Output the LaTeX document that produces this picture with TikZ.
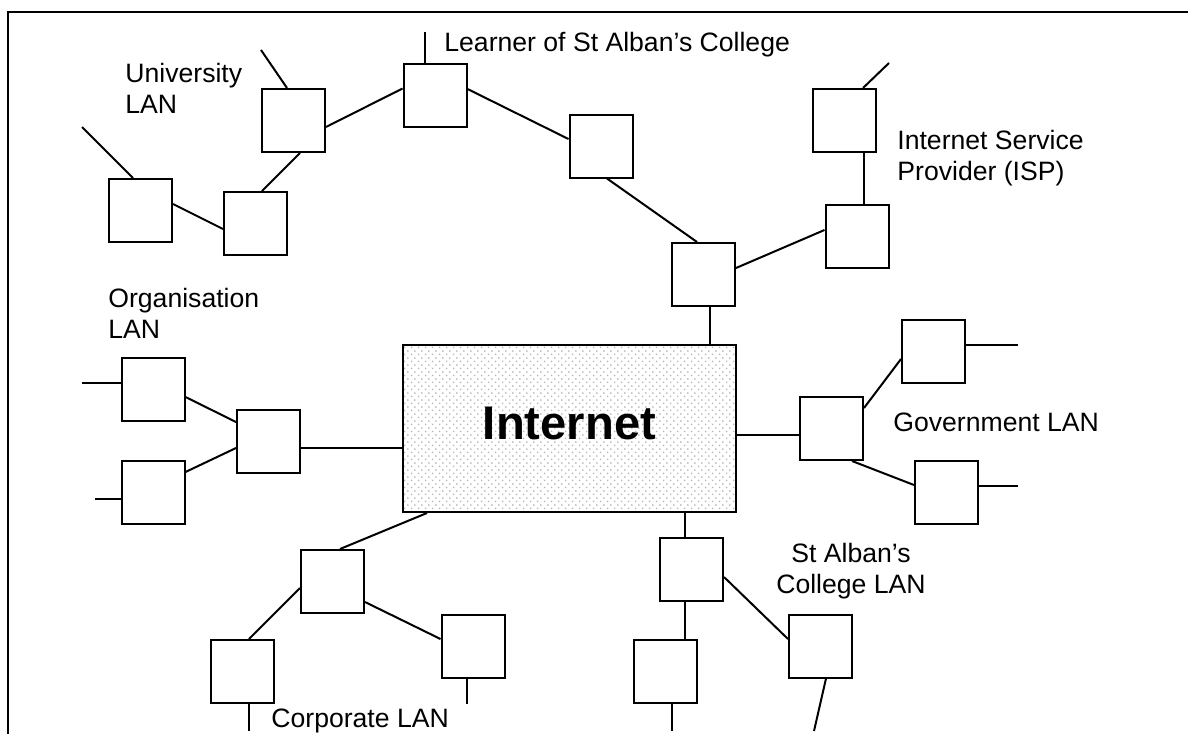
\documentclass[tikz,border=0pt]{standalone}
\usepackage{fontspec}
\setmainfont{Liberation Sans}
\usetikzlibrary{calc,patterns}

% staggered dot fill for the central cloud box
\pgfdeclarepatternformonly{netdots}{\pgfqpoint{0pt}{0pt}}{\pgfqpoint{3.6pt}{3.4pt}}{\pgfqpoint{3.6pt}{3.4pt}}{%
  \pgfpathcircle{\pgfqpoint{0.9pt}{0.85pt}}{0.5pt}%
  \pgfpathcircle{\pgfqpoint{2.7pt}{2.55pt}}{0.5pt}%
  \pgfusepath{fill}}

\begin{document}
\begin{tikzpicture}[x=0.5pt,y=-0.5pt,
  box/.style={draw,line width=1pt,minimum width=31.5pt,minimum height=31.5pt,inner sep=0pt,fill=white},
  link/.style={line width=1pt},
  lbl/.style={inner sep=0pt,font=\fontsize{13.3}{15.4}\selectfont,align=left,anchor=base west}]
\useasboundingbox (0,0) rectangle (1188,734);
\fill[white] (0,0) rectangle (1188,734);

% page frame
\coordinate (fTR) at (1188,12);
\coordinate (fTL) at (8,12);
\coordinate (fBL) at (8,734);
\draw[link] (fTR) -- (fTL) -- (fBL);

% central Internet box
\node[draw,line width=1pt,minimum width=166.5pt,minimum height=83.5pt,inner sep=0pt,
      preaction={fill=white},pattern=netdots,pattern color=gray!55,
      font=\fontsize{23.6}{28}\selectfont\bfseries,text depth=5.5pt] (Int) at (569.5,428.5) {Internet};

% University LAN
\node[box] (U1) at (140.5,210.5) {};
\node[box] (U2) at (255.5,223.5) {};
\node[box] (U3) at (293.5,120.5) {};
% learner and college path
\node[box] (L1) at (435,95.5) {};
\node[box] (L2) at (601,146) {};
\node[box] (R1) at (703.5,274.5) {};
% ISP
\node[box] (P1) at (844.5,120.5) {};
\node[box] (P2) at (857,236) {};
% Organisation LAN
\node[box] (O1) at (153,389.5) {};
\node[box] (O2) at (153,492.5) {};
\node[box] (O3) at (268.5,441) {};
% Government LAN
\node[box] (G1) at (831.5,428.5) {};
\node[box] (G2) at (933.5,351) {};
\node[box] (G3) at (946.5,492.5) {};
% Corporate LAN
\node[box] (C1) at (332.5,581.5) {};
\node[box] (C2) at (242.5,671.5) {};
\node[box] (C3) at (473,646) {};
% St Alban's College LAN
\node[box] (S1) at (691.5,569) {};
\node[box] (S2) at (665.5,671.5) {};
\node[box] (S3) at (820.5,646) {};

% free ends of stub lines
\coordinate (eU1) at (82,127);
\coordinate (eU3) at (261,50);
\coordinate (eL1) at (425,32);
\coordinate (eP1) at (889,63);
\coordinate (eO1) at (82,383);
\coordinate (eO2) at (95,499);
\coordinate (eG2) at (1018,345);
\coordinate (eG3) at (1018,486);
\coordinate (eC2) at (249,731);
\coordinate (eC3) at (467,704);
\coordinate (eS2) at (672,731);
\coordinate (eS3) at (814,731);

% attachment points for straight vertical / horizontal links
\coordinate (r1s) at ($(R1.south)+(6.5,0)$);
\coordinate (p2n) at ($(P2.north)+(7,0)$);
\coordinate (o3e) at ($(O3.east)+(0,7)$);
\coordinate (g1w) at ($(G1.west)+(0,6)$);
\coordinate (s1n) at ($(S1.north)+(-6.5,0)$);
\coordinate (s1s) at ($(S1.south)+(-6.5,0)$);

% University LAN links
\draw[link] ($(U1.north)+(-7.5,0)$) -- (eU1);
\draw[link] ($(U1.east)+(0,-6.5)$) -- ($(U2.west)+(0,5.5)$);
\draw[link] ($(U2.north)+(6.5,0)$) -- ($(U3.south)+(6.5,0)$);
\draw[link] ($(U3.north)+(-6.5,0)$) -- (eU3);
\draw[link] ($(U3.east)+(0,6.5)$) -- ($(L1.west)+(0,-7)$);
% learner path
\draw[link] ($(L1.north)+(-10,0)$) -- (eL1);
\draw[link] ($(L1.east)+(0,-6.5)$) -- ($(L2.west)+(0,-7)$);
\draw[link] ($(L2.south)+(6,0)$) -- ($(R1.north)+(-6.5,0)$);
\draw[link] ($(R1.east)+(0,-6.5)$) -- ($(P2.west)+(0,-6)$);
\draw[link] (r1s) -- (r1s |- Int.north);
% ISP
\draw[link] (p2n) -- (p2n |- P1.south);
\draw[link] ($(P1.north)+(18.5,0)$) -- (eP1);
% Organisation LAN
\draw[link] ($(O1.west)+(0,-6.5)$) -- (eO1);
\draw[link] ($(O2.west)+(0,6.5)$) -- (eO2);
\draw[link] ($(O1.east)+(0,7.5)$) -- ($(O3.west)+(0,-19)$);
\draw[link] ($(O2.east)+(0,-20.5)$) -- ($(O3.west)+(0,7)$);
\draw[link] (o3e) -- (o3e -| Int.west);
% Government LAN
\draw[link] (g1w -| Int.east) -- (g1w);
\draw[link] ($(G1.east)+(0,-20.5)$) -- ($(G2.west)+(0,8)$);
\draw[link] ($(G2.east)+(0,-6)$) -- (eG2);
\draw[link] ($(G1.south)+(20.5,0)$) -- ($(G3.west)+(0,-7.5)$);
\draw[link] ($(G3.east)+(0,-6.5)$) -- (eG3);
% Corporate LAN
\draw[link] ($(Int.south)+(-142.5,0)$) -- ($(C1.north)+(7.5,0)$);
\draw[link] ($(C1.west)+(0,6.5)$) -- ($(C2.north)+(6.5,0)$);
\draw[link] ($(C2.south)+(6.5,0)$) -- (eC2);
\draw[link] ($(C1.east)+(0,20.5)$) -- ($(C3.west)+(0,-7)$);
\draw[link] ($(C3.south)+(-6,0)$) -- (eC3);
% St Alban's College LAN
\draw[link] (s1n |- Int.south) -- (s1n);
\draw[link] (s1s) -- (s1s |- S2.north);
\draw[link] ($(S2.south)+(6.5,0)$) -- (eS2);
\draw[link] ($(S1.east)+(0,8)$) -- ($(S3.west)+(0,-7)$);
\draw[link] ($(S3.south)+(5.5,0)$) -- (eS3);

% labels (base anchor of a two-line label sits on its last line)
\node[lbl] (tLearner) at (444,51) {Learner of St Alban’s College};
\node[lbl] (tUni) at (125,113) {University\\LAN};
\node[lbl] (tISP) at (897,180) {Internet Service\\Provider (ISP)};
\node[lbl] (tOrg) at (108,338) {Organisation\\LAN};
\node[lbl] (tGov) at (893,431) {Government LAN};
\node[lbl,align=center,anchor=base] (tStA) at (851,593) {St Alban’s\\College LAN};
\node[lbl] (tCorp) at (271,727) {Corporate LAN};
\end{tikzpicture}
\end{document}
